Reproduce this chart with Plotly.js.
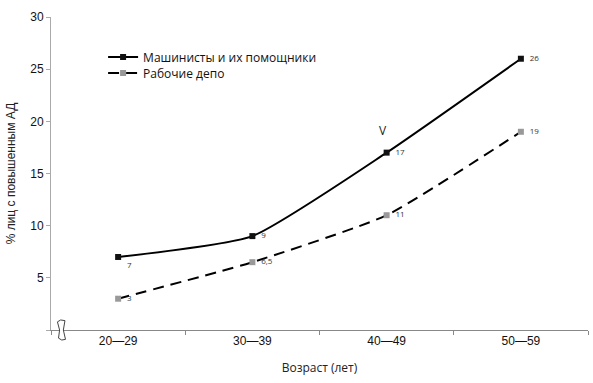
<!DOCTYPE html>
<html>
<head>
<meta charset="utf-8">
<script src="https://cdn.plot.ly/plotly-3.0.1.min.js"></script>
<style>html,body{margin:0;padding:0;background:#fff;}#chart{width:593px;height:383px;}</style>
</head>
<body>
<div id="chart"></div>
<script>
const categories = ["20—29", "30—39", "40—49", "50—59"];
const drivers = [7, 9, 17, 26];
const driverLabels = ["7", "9", "17", "26"];
const depot = [3, 6.5, 11, 19];
const depotLabels = ["3", "6,5", "11", "19"];
const yTicks = [0, 5, 10, 15, 20, 25, 30];
const yTickLabels = ["", "5", "10", "15", "20", "25", "30"];
const seriesNames = ["Машинисты и их помощники", "Рабочие депо"];

const labelFont = {family: "Open Sans, Noto Sans, sans-serif", size: 8, color: "#333"};
const legendFont = {family: "Open Sans, Noto Sans, sans-serif", size: 12, color: "#111"};
const pad = s => "\u2002" + s;

const traces = [
  {
    x: categories, y: drivers, name: seriesNames[0], type: "scatter", mode: "lines+markers+text",
    text: driverLabels.map(pad), textposition: ["bottom right", "middle right", "middle right", "middle right"],
    textfont: labelFont, legend: "legend",
    line: {color: "#000", width: 2, shape: "spline", smoothing: 0.5},
    marker: {symbol: "square", size: 6, color: "#111"},
    cliponaxis: false
  },
  {
    x: categories, y: depot, name: seriesNames[1], type: "scatter", mode: "lines+markers+text",
    text: depotLabels.map(pad), textposition: ["middle right", "middle right", "middle right", "middle right"],
    textfont: labelFont, legend: "legend2",
    line: {color: "#000", width: 2, dash: "11px,7px", shape: "spline", smoothing: 0.5},
    marker: {symbol: "square", size: 6, color: "#999"},
    cliponaxis: false
  }
];

const layout = {
  width: 593, height: 383,
  margin: {l: 51, r: 5, t: 17, b: 53},
  paper_bgcolor: "#fff", plot_bgcolor: "#fff",
  showlegend: true,
  legend: {
    x: 0.097, y: 0.872, xanchor: "left", yanchor: "middle",
    bgcolor: "rgba(0,0,0,0)", itemwidth: 30, font: legendFont
  },
  legend2: {
    x: 0.097, y: 0.821, xanchor: "left", yanchor: "middle",
    bgcolor: "rgba(0,0,0,0)", itemwidth: 30, font: legendFont
  },
  xaxis: {
    type: "category", range: [-0.5, 3.5], tickson: "boundaries",
    showline: true, linecolor: "#888", linewidth: 1,
    ticks: "outside", ticklen: 4, tickcolor: "#888",
    showgrid: false, zeroline: false,
    tickfont: {family: "Liberation Sans, Arial, sans-serif", size: 12, color: "#111"},
    title: {text: "Возраст (лет)", font: {family: "Open Sans, Noto Sans, sans-serif", size: 12, color: "#222"}, standoff: 16}
  },
  yaxis: {
    range: [0, 30], tickvals: yTicks, ticktext: yTickLabels,
    showline: true, linecolor: "#aaa", linewidth: 1,
    ticks: "outside", ticklen: 4, tickcolor: "#aaa",
    showgrid: false, zeroline: false,
    tickfont: {family: "Liberation Sans, Arial, sans-serif", size: 12, color: "#111"},
    title: {text: "% лиц с повышенным АД", font: {family: "Liberation Sans, Arial, sans-serif", size: 12, color: "#222"}, standoff: 12}
  },
  annotations: [
    {x: "40—49", y: drivers[2], xref: "x", yref: "y", text: "V", showarrow: false,
     xshift: -4, yshift: 22, font: {family: "Open Sans, sans-serif", size: 12, color: "#222"}}
  ],
  shapes: [
    {type: "path", xref: "paper", yref: "paper",
     path: "M 0.012 0.026 L 0.018 0.032 L 0.026 0.03 L 0.023 0.0 L 0.027 -0.03 L 0.02 -0.032 L 0.014 -0.026 L 0.016 0.0 Z",
     fillcolor: "#fff", line: {color: "#444", width: 1}}
  ]
};

Plotly.newPlot("chart", traces, layout, {displayModeBar: false, staticPlot: true});
</script>
</body>
</html>
